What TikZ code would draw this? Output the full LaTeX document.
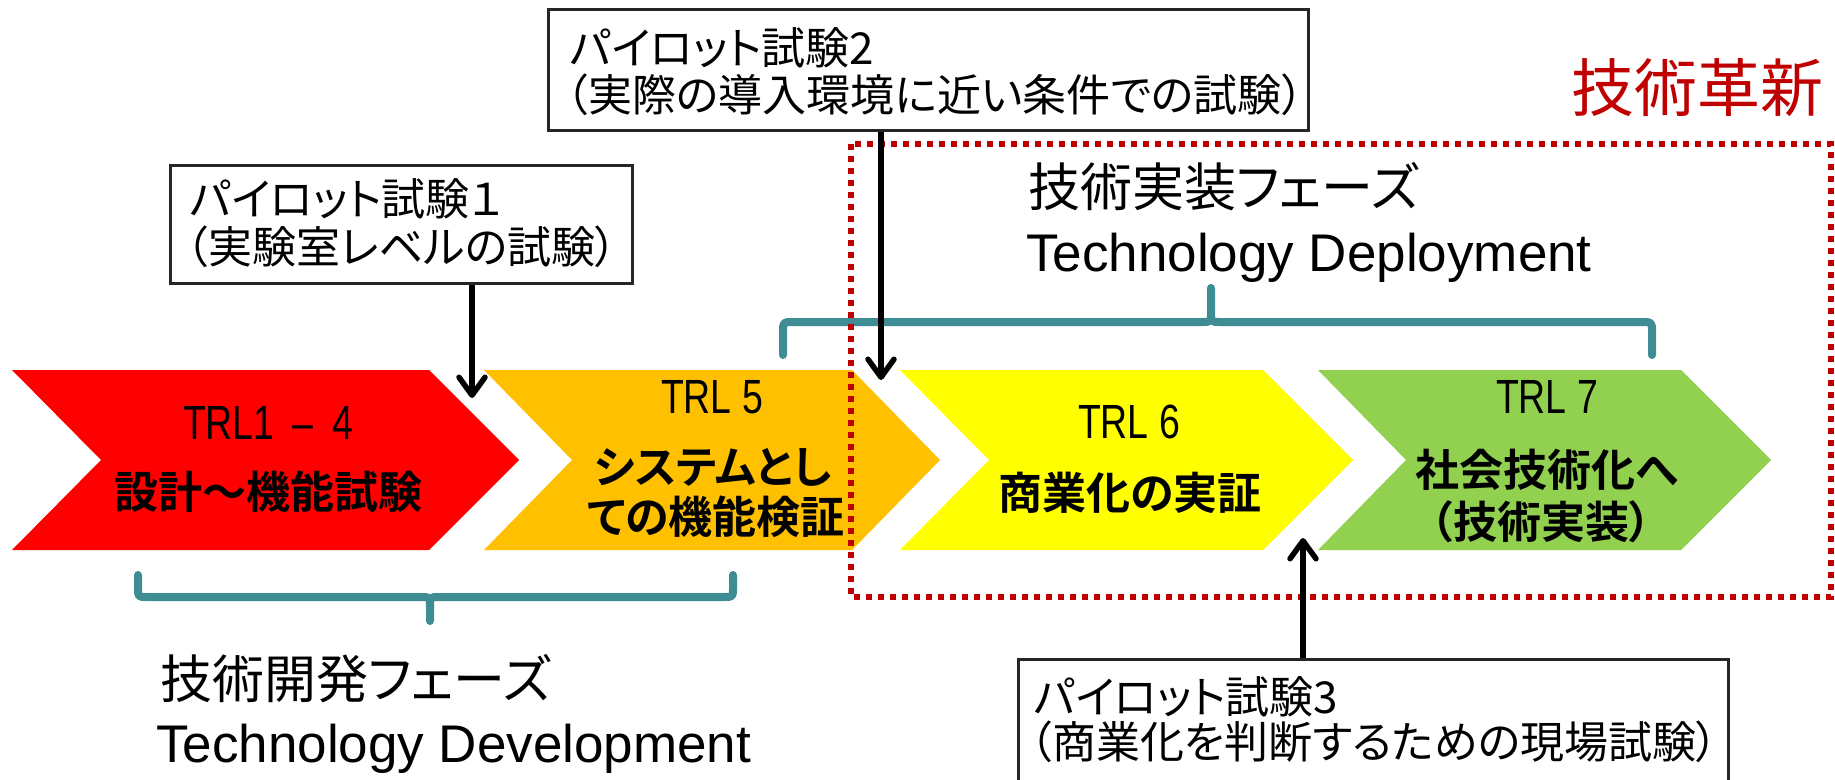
\documentclass[tikz,border=0pt]{standalone}
\usepackage{fontspec}
\setmainfont{Liberation Sans}
\newfontfamily\jp{Noto Sans CJK JP}[RawFeature=+palt]
\newfontfamily\jpb{Noto Sans CJK JP Bold}[RawFeature=+palt]
\newfontfamily\trlf{Liberation Sans}[FakeStretch=0.78]
\usetikzlibrary{arrows.meta}
\definecolor{cRed}{HTML}{FF0000}
\definecolor{cOrange}{HTML}{FFC000}
\definecolor{cYellow}{HTML}{FFFF00}
\definecolor{cGreen}{HTML}{92D050}
\definecolor{cTeal}{HTML}{3F8D94}
\definecolor{cDRed}{HTML}{C00000}
\begin{document}
\begin{tikzpicture}[x=1pt,y=-1pt,
  annobox/.style={draw=black!85, line width=2.5pt, fill=white, inner sep=0pt, anchor=north west},
  anntext/.style={font=\jp\fontsize{44}{52}\selectfont, inner sep=0pt, anchor=west},
  chevtxt/.style={font=\jpb\fontsize{44}{52}\selectfont, inner sep=0pt},
  trltxt/.style={font=\trlf\fontsize{48}{54}\selectfont, inner sep=0pt},
  phasejp/.style={font=\jp\fontsize{52}{60}\selectfont, inner sep=0pt, anchor=west},
  phaseen/.style={font=\fontsize{53}{60}\selectfont, inner sep=0pt, anchor=base west},
  brace/.style={draw=cTeal, line width=8pt, line cap=round, line join=round},
  pilotarrow/.style={draw=black, line width=5.5pt, -{Straight Barb[length=18pt,width=26pt,round]}},
  dotbox/.style={draw=cDRed, line width=6pt, dash pattern=on 6pt off 6pt}
]
\useasboundingbox (0,0) rectangle (1835,779);
\clip (0,0) rectangle (1835,779);
\fill[white] (0,0) rectangle (1835,779);

% chevrons
\fill[cRed]    (12,370) -- (429,370) -- (519,460) -- (429,550) -- (12,550) -- (101,460) -- cycle;
\fill[cOrange] (484,370) -- (852,370) -- (940,460) -- (852,550) -- (484,550) -- (572,460) -- cycle;
\fill[cYellow] (900,370) -- (1263,370) -- (1353,460) -- (1263,550) -- (900,550) -- (989,460) -- cycle;
\fill[cGreen]  (1318,370) -- (1681,370) -- (1771,460) -- (1681,550) -- (1318,550) -- (1406,460) -- cycle;

% chevron texts
\node[trltxt] (trl14) at (268,423) {TRL1 \,–\, 4};
\node[chevtxt] (c1) at (268,492) {設計～機能試験};
\node[trltxt] (trl5) at (712,397) {TRL 5};
\node[chevtxt] (c2a) at (713,467) {システムとし};
\node[chevtxt] (c2b) at (716,517) {ての機能検証};
\node[trltxt] (trl6) at (1129,422) {TRL 6};
\node[chevtxt] (c3) at (1130,493) {商業化の実証};
\node[trltxt] (trl7) at (1547,397) {TRL 7};
\node[chevtxt] (c4a) at (1547,470) {社会技術化へ};
\node[chevtxt] (c4b) at (1541,522) {（技術実装）};

% braces
\draw[brace] (138,575) -- (138,588) .. controls (138,597) .. (147,597) -- (421,597)
  .. controls (430,597) .. (430,607) -- (430,621) -- (430,607)
  .. controls (430,597) .. (439,597) -- (724,597) .. controls (733,597) .. (733,588) -- (733,575);
\draw[brace] (783,355) -- (783,332) .. controls (783,322) .. (793,322) -- (1202,322)
  .. controls (1211,322) .. (1211,312) -- (1211,288) -- (1211,312)
  .. controls (1211,322) .. (1220,322) -- (1642,322) .. controls (1652,322) .. (1652,332) -- (1652,355);

% phase labels
\node[phasejp] (devjp) at (160,679) {技術開発フェーズ};
\node[phaseen] (deven) at (156,762) {Technology Development};
\node[phasejp] (depjp) at (1028,187) {技術実装フェーズ};
\node[phaseen] (depen) at (1026,271) {Technology Deployment};

% innovation region
\draw[dotbox] (851,144) rectangle (1831,597);
\node[font=\jp\fontsize{63}{70}\selectfont, text=cDRed, inner sep=0pt] (innov) at (1697,88) {技術革新};

% pilot boxes
\node[annobox, minimum width=462pt, minimum height=118pt] (box1) at (169,164) {};
\node[anntext] (b1a) at (190,199) {パイロット試験１};
\node[anntext] (b1b) at (186,247) {（実験室レベルの試験）};

\node[annobox, minimum width=760pt, minimum height=121pt] (box2) at (547,8) {};
\node[anntext] (b2a) at (570,48) {パイロット試験2};
\node[anntext] (b2b) at (566,95) {（実際の導入環境に近い条件での試験）};

\node[annobox, minimum width=710pt, minimum height=140pt] (box3) at (1017,658) {};
\node[anntext] (b3a) at (1034,697) {パイロット試験3};
\node[anntext] (b3b) at (1030,742) {（商業化を判断するための現場試験）};

% arrows
\coordinate (a1) at (472,398);
\coordinate (a2) at (881,380);
\coordinate (a3) at (1303,538);
\draw[pilotarrow] (box1.south -| a1) -- (a1);
\draw[pilotarrow] (box2.south -| a2) -- (a2);
\draw[pilotarrow] (box3.north -| a3) -- (a3);
\end{tikzpicture}
\end{document}
